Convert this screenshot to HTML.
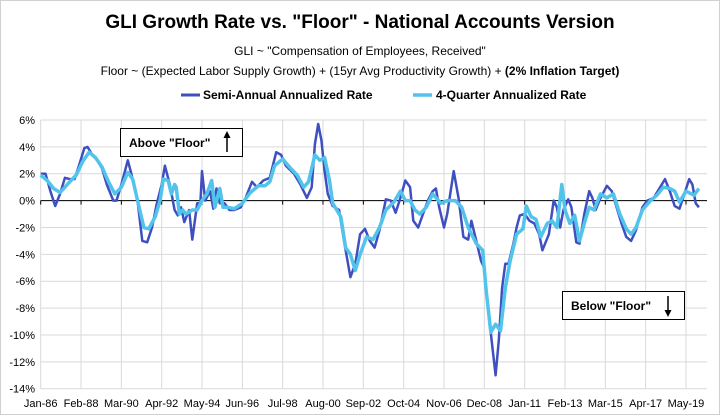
<!DOCTYPE html>
<html><head><meta charset="utf-8"><style>
body{margin:0;background:#fff;}
svg{display:block;font-family:"Liberation Sans",Arial,sans-serif;}
</style></head><body>
<svg id="chart" width="720" height="415" viewBox="0 0 720 415">
<rect x="0.5" y="0.5" width="719" height="414" fill="#fff" stroke="#d0d0d0"/>
<text x="360" y="28" text-anchor="middle" font-size="19" font-weight="bold" fill="#000">GLI Growth Rate vs. "Floor" - National Accounts Version</text>
<text x="360" y="55" text-anchor="middle" font-size="12" fill="#000">GLI ~ "Compensation of Employees, Received"</text>
<text x="360" y="75" text-anchor="middle" font-size="12" fill="#000">Floor ~ (Expected Labor Supply Growth) + (15yr Avg Productivity Growth) + <tspan font-weight="bold">(2% Inflation Target)</tspan></text>
<g>
<line x1="181" y1="95" x2="200" y2="95" stroke="#3f4fc0" stroke-width="3"/>
<text x="203" y="99" font-size="12" font-weight="bold">Semi-Annual Annualized Rate</text>
<line x1="413" y1="95" x2="432" y2="95" stroke="#52c4ec" stroke-width="3.5"/>
<text x="436" y="99" font-size="12" font-weight="bold">4-Quarter Annualized Rate</text>
</g>
<g id="grid"></g>
<g id="axes"></g>
<g id="series"></g>
<g>
<rect x="120.5" y="128.5" width="122" height="28" fill="#fff" stroke="#000"/>
<text x="129" y="147" font-size="12" font-weight="bold">Above "Floor"</text>
<line x1="227" y1="152" x2="227" y2="136" stroke="#000" stroke-width="1.5"/>
<path d="M223.5,138 L227,131 L230.5,138 Z" fill="#000"/>
</g>
<g>
<rect x="562.5" y="291.5" width="122" height="28" fill="#fff" stroke="#000"/>
<text x="571" y="310" font-size="12" font-weight="bold">Below "Floor"</text>
<line x1="668" y1="296" x2="668" y2="312" stroke="#000" stroke-width="1.5"/>
<path d="M664.5,310 L668,317 L671.5,310 Z" fill="#000"/>
</g>
</svg>
<script>
const xLabels=["Jan-86","Feb-88","Mar-90","Apr-92","May-94","Jun-96","Jul-98","Aug-00","Sep-02","Oct-04","Nov-06","Dec-08","Jan-11","Feb-13","Mar-15","Apr-17","May-19"];
const yTicks=[6,4,2,0,-2,-4,-6,-8,-10,-12,-14];
const semiMonths=[0,3,6,9,12,15,18,21,24,27,29,32,35,38,41,45,47,50,54,56,60,63,66,69,72,75,77,80,83,85,87,89,92,94,97,99,100,102,105,107,109,111,114,117,120,124,127,131,134,138,142,146,149,152,157,161,165,168,170,172,174,176,178,181,185,188,192,195,198,201,204,207,210,214,217,220,223,226,229,231,234,237,240,243,245,247,250,252,256,259,262,265,267,270,273,275,277,280,282,284,286,288,290,293,295,297,300,303,306,309,311,315,318,320,322,324,327,329,332,334,337,340,342,344,347,351,354,357,360,363,366,369,373,376,380,384,387,390,393,396,399,402,404,406,408];
const semiValues=[2.0,2.0,0.7,-0.4,0.5,1.7,1.6,1.6,2.7,3.9,4.0,3.4,3.0,2.4,1.2,0,0,1.2,3.0,2.1,0,-3.0,-3.1,-2.0,-0.2,1.2,2.6,1.2,-0.7,-1.1,-0.5,-1.6,-0.7,-2.9,-0.2,-0.2,2.2,0,0.7,-0.6,0.9,-0.2,-0.2,-0.7,-0.7,-0.5,0.2,1.4,1.0,1.5,1.7,3.6,3.4,2.6,2.0,1.2,0.2,1.0,4.2,5.7,4.5,2.2,0.5,-0.4,-0.7,-3.0,-5.7,-4.7,-2.5,-2.1,-3.0,-3.5,-2.2,0.1,0,-0.9,0.2,1.5,1.0,-1.5,-2.0,-1.0,0,0.7,0.9,-0.5,-2.0,-1.0,2.2,0.2,-2.7,-2.9,-1.5,-3.0,-4.5,-5.0,-7.7,-10.9,-13.0,-10.4,-6.5,-4.7,-4.7,-3.2,-2.0,-1.1,-1.0,-1.5,-1.7,-2.5,-3.7,-2.5,0,-0.5,-2.0,-0.7,0.1,-0.5,-3.1,-3.2,-1.0,0.7,0.2,-0.7,0.2,1.1,0.7,-0.5,-1.7,-2.7,-3.0,-2.2,-0.5,0,0.2,1.0,1.6,0.7,-0.4,-0.6,0.5,1.6,1.2,-0.2,-0.5];
const qtrMonths=[0,4,8,12,15,18,22,26,30,34,38,42,46,50,54,57,61,64,67,71,74,76,79,81,83,84,86,88,90,94,97,100,103,106,108,111,113,116,120,125,130,135,139,142,145,150,155,159,163,166,170,173,176,179,181,186,189,192,195,198,202,206,210,214,219,223,226,229,232,235,239,243,248,252,257,261,265,270,274,276,279,282,285,288,291,295,299,301,304,307,310,314,317,320,323,325,328,331,334,337,340,343,347,351,355,359,363,366,369,373,378,382,386,390,393,396,400,405,408];
const qtrValues=[1.9,1.5,0.9,0.6,1.0,1.4,1.9,2.9,3.6,3.2,2.5,1.4,0.5,1.0,2.1,1.6,-0.5,-2.0,-2.1,-1.2,0,1.6,1.5,0.5,1.2,1.0,-1.0,-0.7,-1.0,-0.7,-0.7,0,0.5,1.5,-0.5,0.9,-0.5,-0.5,-0.6,-0.2,0.6,1.1,1.1,1.4,2.6,3.1,2.4,1.9,1.0,1.4,3.4,3.0,3.2,1.5,-0.2,-1.2,-3.5,-4.0,-5.2,-4.0,-2.7,-2.9,-2.0,-0.7,-0.1,0.7,0,0,-0.7,-1.0,-0.5,0.5,-0.2,0,0,-0.5,-2.0,-3.2,-3.7,-6.5,-9.8,-9.2,-9.7,-6.5,-4.5,-2.5,-2.1,-0.4,-1.2,-1.4,-2.7,-1.7,-1.5,-2.0,1.2,-0.7,-1.7,-1.1,-3.0,-1.7,-0.5,-0.7,0.5,0.2,0.5,-1.0,-2.1,-2.5,-2.0,-0.7,0,0.4,1.0,0.9,0.7,-0.1,0.7,0.4,0.9];

const NS="http://www.w3.org/2000/svg";
const X0=40.7, MPX=40.33/25, PLOT_R=707, Y_TOP=120, Y_BOT=388.7;
function xs(m){return X0+m*MPX;}
function ys(v){return Y_TOP+(6-v)*(Y_BOT-Y_TOP)/20;}
function mk(tag,attrs,parent){const e=document.createElementNS(NS,tag);for(const k in attrs)e.setAttribute(k,attrs[k]);parent.appendChild(e);return e;}
const grid=document.getElementById('grid'),axes=document.getElementById('axes'),series=document.getElementById('series');
yTicks.forEach(v=>{
  const l=mk('line',{x1:X0,x2:PLOT_R,y1:ys(v),y2:ys(v),stroke:'#d9d9d9','stroke-width':1},grid);
  
  
  const t=mk('text',{x:35,y:ys(v)+4,'text-anchor':'end','font-size':11,fill:'#000'},axes);
  t.textContent=v+'%';
  
  
});
xLabels.forEach((lab,i)=>{
  const x=xs(i*25);
  const l=mk('line',{x1:x,x2:x,y1:Y_TOP,y2:Y_BOT,stroke:'#d9d9d9','stroke-width':1},grid);
  
  
  const tk=mk('line',{x1:x,x2:x,y1:ys(0),y2:ys(0)+4,stroke:'#000','stroke-width':1},axes);
  
  
  const t=mk('text',{x:x,y:407,'text-anchor':'middle','font-size':11,fill:'#000'},axes);
  t.textContent=lab;
  
  
});
const zl=mk('line',{x1:X0,x2:PLOT_R,y1:ys(0),y2:ys(0),stroke:'#000','stroke-width':1},axes);


function path(ms,vs){return ms.map((m,i)=>(i?'L':'M')+xs(m).toFixed(1)+','+ys(vs[i]).toFixed(1)).join(' ');}
const p1=mk('path',{d:path(semiMonths,semiValues),fill:'none',stroke:'#3f4fc0','stroke-width':2.5,'stroke-linejoin':'round'},series);


const p2=mk('path',{d:path(qtrMonths,qtrValues),fill:'none',stroke:'#52c4ec','stroke-width':3.5,'stroke-linejoin':'round'},series);


</script>
</body></html>
